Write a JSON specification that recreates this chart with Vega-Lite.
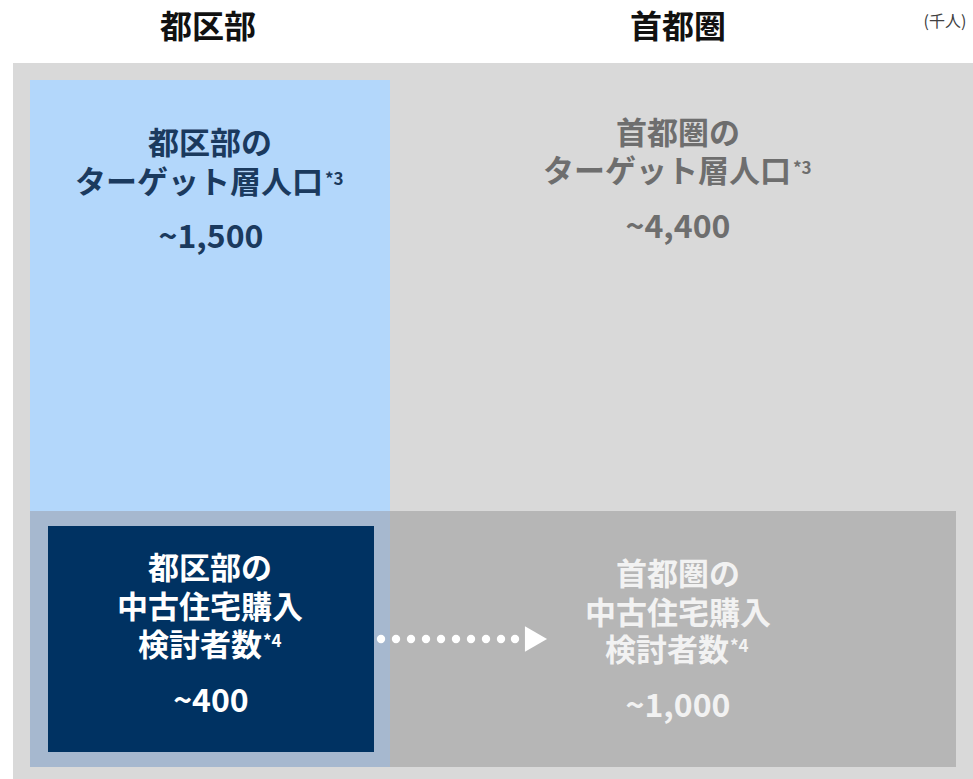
{
  "$schema": "https://vega.github.io/schema/vega-lite/v6.json",
  "width": 973,
  "height": 779,
  "autosize": {"type": "fit", "contains": "padding"},
  "padding": 0,
  "background": "white",
  "config": {"view": {"stroke": null}},
  "datasets": {
    "boxes": [
      {"kind": "全体", "x": 13, "x2": 973, "y": 63, "y2": 779},
      {"kind": "都区部ターゲット", "x": 30, "x2": 390, "y": 80, "y2": 511},
      {"kind": "都区部帯", "x": 30, "x2": 390, "y": 511, "y2": 767},
      {"kind": "首都圏帯", "x": 390, "x2": 956, "y": 511, "y2": 767},
      {"kind": "都区部検討者", "x": 48, "x2": 374, "y": 526, "y2": 752}
    ],
    "headers": [
      {"t": "都区部", "x": 208, "y": 28},
      {"t": "首都圏", "x": 678, "y": 28}
    ],
    "unit": [{"t": "(千人)", "x": 945, "y": 22}],
    "blueText": [
      {"t": "都区部の", "x": 210, "y": 145, "s": "main"},
      {"t": "ターゲット層人口", "x": 199, "y": 184, "s": "main"},
      {"t": "~1,500", "x": 211, "y": 238, "s": "num"}
    ],
    "blueSup": [{"t": "*3", "x": 325, "y": 172}],
    "grayText": [
      {"t": "首都圏の", "x": 678, "y": 135, "s": "main"},
      {"t": "ターゲット層人口", "x": 667, "y": 173, "s": "main"},
      {"t": "~4,400", "x": 678, "y": 228, "s": "num"}
    ],
    "graySup": [{"t": "*3", "x": 793, "y": 161}],
    "navyText": [
      {"t": "都区部の", "x": 210, "y": 570, "s": "main"},
      {"t": "中古住宅購入", "x": 210, "y": 609, "s": "main"},
      {"t": "検討者数", "x": 200, "y": 647, "s": "main"},
      {"t": "~400", "x": 211, "y": 702, "s": "num"}
    ],
    "navySup": [{"t": "*4", "x": 263, "y": 634}],
    "rightText": [
      {"t": "首都圏の", "x": 678, "y": 576, "s": "main"},
      {"t": "中古住宅購入", "x": 678, "y": 615, "s": "main"},
      {"t": "検討者数", "x": 667, "y": 652, "s": "main"},
      {"t": "~1,000", "x": 678, "y": 707, "s": "num"}
    ],
    "rightSup": [{"t": "*4", "x": 730, "y": 639}],
    "dots": [
      {"x": 381, "y": 639}, {"x": 396, "y": 639}, {"x": 411, "y": 639},
      {"x": 426, "y": 639}, {"x": 441, "y": 639}, {"x": 456, "y": 639},
      {"x": 471, "y": 639}, {"x": 486, "y": 639}, {"x": 501, "y": 639},
      {"x": 515, "y": 639}
    ],
    "head": [{"x": 536, "y": 639}]
  },
  "layer": [
    {
      "data": {"name": "boxes"},
      "mark": {"type": "rect"},
      "encoding": {
        "x": {"field": "x", "type": "quantitative", "scale": {"domain": [0, 973], "nice": false, "zero": false}, "axis": null},
        "x2": {"field": "x2"},
        "y": {"field": "y", "type": "quantitative", "scale": {"domain": [0, 779], "nice": false, "zero": false, "reverse": true}, "axis": null},
        "y2": {"field": "y2"},
        "color": {"field": "kind", "type": "nominal", "legend": null,
          "scale": {"domain": ["全体", "都区部ターゲット", "都区部帯", "首都圏帯", "都区部検討者"],
                    "range": ["#d9d9d9", "#b3d7fb", "#a6b8cf", "#b6b6b6", "#003262"]}},
        "order": {"field": "x", "type": "quantitative"}
      }
    },
    {
      "data": {"name": "headers"},
      "mark": {"type": "text", "font": "Noto Sans CJK JP", "fontWeight": "bold", "fontSize": 32, "color": "#111111", "align": "center", "baseline": "middle"},
      "encoding": {
        "x": {"field": "x", "type": "quantitative"},
        "y": {"field": "y", "type": "quantitative"},
        "text": {"field": "t"}
      }
    },
    {
      "data": {"name": "unit"},
      "mark": {"type": "text", "font": "Noto Sans CJK JP", "fontSize": 16, "color": "#404040", "align": "center", "baseline": "middle"},
      "encoding": {
        "x": {"field": "x", "type": "quantitative"},
        "y": {"field": "y", "type": "quantitative"},
        "text": {"field": "t"}
      }
    },
    {
      "data": {"name": "blueText"},
      "mark": {"type": "text", "font": "Noto Sans CJK JP", "fontWeight": "bold", "color": "#1b3a5e", "align": "center", "baseline": "middle"},
      "encoding": {
        "x": {"field": "x", "type": "quantitative"},
        "y": {"field": "y", "type": "quantitative"},
        "text": {"field": "t"},
        "size": {"field": "s", "type": "nominal", "legend": null, "scale": {"domain": ["main", "num"], "range": [31, 32]}}
      }
    },
    {
      "data": {"name": "blueSup"},
      "mark": {"type": "text", "font": "Noto Sans CJK JP", "fontWeight": "bold", "fontSize": 17, "color": "#1b3a5e", "align": "left", "baseline": "top"},
      "encoding": {
        "x": {"field": "x", "type": "quantitative"},
        "y": {"field": "y", "type": "quantitative"},
        "text": {"field": "t"}
      }
    },
    {
      "data": {"name": "grayText"},
      "mark": {"type": "text", "font": "Noto Sans CJK JP", "fontWeight": "bold", "color": "#6e6e6e", "align": "center", "baseline": "middle"},
      "encoding": {
        "x": {"field": "x", "type": "quantitative"},
        "y": {"field": "y", "type": "quantitative"},
        "text": {"field": "t"},
        "size": {"field": "s", "type": "nominal", "legend": null, "scale": {"domain": ["main", "num"], "range": [31, 32]}}
      }
    },
    {
      "data": {"name": "graySup"},
      "mark": {"type": "text", "font": "Noto Sans CJK JP", "fontWeight": "bold", "fontSize": 17, "color": "#6e6e6e", "align": "left", "baseline": "top"},
      "encoding": {
        "x": {"field": "x", "type": "quantitative"},
        "y": {"field": "y", "type": "quantitative"},
        "text": {"field": "t"}
      }
    },
    {
      "data": {"name": "navyText"},
      "mark": {"type": "text", "font": "Noto Sans CJK JP", "fontWeight": "bold", "color": "#ffffff", "align": "center", "baseline": "middle"},
      "encoding": {
        "x": {"field": "x", "type": "quantitative"},
        "y": {"field": "y", "type": "quantitative"},
        "text": {"field": "t"},
        "size": {"field": "s", "type": "nominal", "legend": null, "scale": {"domain": ["main", "num"], "range": [31, 32]}}
      }
    },
    {
      "data": {"name": "navySup"},
      "mark": {"type": "text", "font": "Noto Sans CJK JP", "fontWeight": "bold", "fontSize": 17, "color": "#ffffff", "align": "left", "baseline": "top"},
      "encoding": {
        "x": {"field": "x", "type": "quantitative"},
        "y": {"field": "y", "type": "quantitative"},
        "text": {"field": "t"}
      }
    },
    {
      "data": {"name": "rightText"},
      "mark": {"type": "text", "font": "Noto Sans CJK JP", "fontWeight": "bold", "color": "#f2f2f2", "align": "center", "baseline": "middle"},
      "encoding": {
        "x": {"field": "x", "type": "quantitative"},
        "y": {"field": "y", "type": "quantitative"},
        "text": {"field": "t"},
        "size": {"field": "s", "type": "nominal", "legend": null, "scale": {"domain": ["main", "num"], "range": [31, 32]}}
      }
    },
    {
      "data": {"name": "rightSup"},
      "mark": {"type": "text", "font": "Noto Sans CJK JP", "fontWeight": "bold", "fontSize": 17, "color": "#f2f2f2", "align": "left", "baseline": "top"},
      "encoding": {
        "x": {"field": "x", "type": "quantitative"},
        "y": {"field": "y", "type": "quantitative"},
        "text": {"field": "t"}
      }
    },
    {
      "data": {"name": "dots"},
      "mark": {"type": "point", "shape": "circle", "filled": true, "color": "#ffffff", "opacity": 1, "size": 70},
      "encoding": {
        "x": {"field": "x", "type": "quantitative"},
        "y": {"field": "y", "type": "quantitative"}
      }
    },
    {
      "data": {"name": "head"},
      "mark": {"type": "point", "shape": "triangle-right", "filled": true, "color": "#ffffff", "opacity": 1, "size": 650},
      "encoding": {
        "x": {"field": "x", "type": "quantitative"},
        "y": {"field": "y", "type": "quantitative"}
      }
    }
  ]
}
